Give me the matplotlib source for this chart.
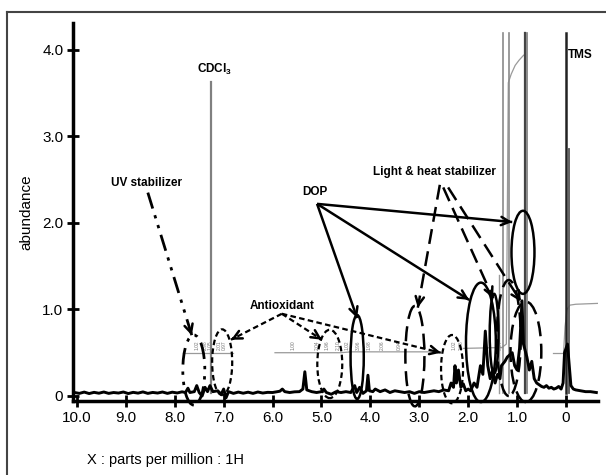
import matplotlib
matplotlib.use("Agg")
import matplotlib.pyplot as plt
from matplotlib.patches import Ellipse
from matplotlib.lines import Line2D

plt.rcParams['font.family'] = ['Liberation Sans', 'DejaVu Sans']
plt.rcParams['mathtext.fontset'] = 'custom'
plt.rcParams['mathtext.rm'] = 'Liberation Sans'
plt.rcParams['mathtext.bf'] = 'Liberation Sans:bold'

# ---------------- data ----------------
# black spectrum trace (ppm, abundance)
spec_ppm = [10.05, 9.95, 9.85, 9.75, 9.65, 9.55, 9.45, 9.35, 9.25, 9.15, 9.05, 8.95,
            8.85, 8.75, 8.65, 8.55, 8.45, 8.35, 8.25, 8.15, 8.05, 7.95, 7.85, 7.78,
            7.73, 7.69, 7.60, 7.55, 7.50, 7.44, 7.38, 7.33, 7.28, 7.22, 7.12, 7.05,
            7.00, 6.95, 6.90, 6.80, 6.70, 6.60, 6.50, 6.40, 6.30, 6.20, 6.10, 6.00,
            5.90, 5.85, 5.80, 5.75, 5.65, 5.55, 5.45, 5.38, 5.34, 5.30, 5.20, 5.10,
            5.00, 4.95, 4.90, 4.80, 4.70, 4.60, 4.50, 4.40, 4.32, 4.28, 4.22, 4.15,
            4.08, 4.05, 4.02, 3.95, 3.90, 3.80, 3.70, 3.60, 3.50, 3.40, 3.30, 3.20,
            3.10, 3.00, 2.90, 2.80, 2.70, 2.60, 2.50, 2.40, 2.35, 2.30, 2.27, 2.24,
            2.20, 2.15, 2.10, 2.05, 2.00, 1.95, 1.88, 1.82, 1.75, 1.70, 1.65, 1.60,
            1.55, 1.50, 1.45, 1.40, 1.35, 1.32, 1.25, 1.20, 1.10, 1.05, 1.00, 0.95,
            0.90, 0.87, 0.80, 0.75, 0.70, 0.65, 0.60, 0.55, 0.50, 0.45, 0.40, 0.35,
            0.30, 0.25, 0.20, 0.15, 0.10, 0.06, 0.03, -0.03, -0.10, -0.15, -0.20,
            -0.30, -0.40, -0.50, -0.62]
spec_int = [0.040, 0.030, 0.045, 0.028, 0.042, 0.032, 0.046, 0.030, 0.040, 0.034, 0.046, 0.028,
            0.042, 0.033, 0.047, 0.030, 0.041, 0.034, 0.046, 0.030, 0.044, 0.035, 0.048, 0.040,
            0.090, 0.040, 0.050, 0.120, 0.040, 0.000, 0.100, 0.050, 0.120, 0.050, 0.060, 0.020,
            0.080, -0.020, 0.050, 0.030, 0.045, 0.032, 0.044, 0.030, 0.046, 0.034, 0.042, 0.040,
            0.050, 0.055, 0.080, 0.050, 0.040, 0.048, 0.050, 0.080, 0.280, 0.070, 0.050, 0.040,
            0.050, 0.080, 0.040, 0.020, 0.050, 0.040, 0.050, 0.040, 0.120, 0.040, 0.100, 0.030,
            0.060, 0.240, 0.060, 0.050, 0.080, 0.050, 0.070, 0.040, 0.060, 0.050, 0.040, 0.050,
            0.030, 0.050, 0.040, 0.050, 0.060, 0.050, 0.070, 0.060, 0.150, 0.100, 0.350, 0.150,
            0.300, 0.100, 0.140, 0.060, 0.080, 0.060, 0.150, 0.100, 0.350, 0.250, 0.750, 0.350,
            0.200, 0.300, 0.150, 0.250, 0.200, 0.350, 0.400, 0.450, 0.500, 0.350, 0.300, 0.550,
            1.100, 0.600, 0.450, 0.300, 0.400, 0.200, 0.150, 0.130, 0.110, 0.100, 0.120, 0.090,
            0.100, 0.080, 0.090, 0.110, 0.080, 0.150, 0.500, 0.600, 0.120, 0.080, 0.070,
            0.060, 0.050, 0.050, 0.040]

# tall (clipped) peak lines: ppm, top abundance, colour, width
tall_ppm = [7.26, 1.37, 1.29, 1.17, 0.84, 0.80, 0.00, -0.07]
tall_top = [3.63, 1.40, 4.20, 4.20, 4.20, 4.20, 4.20, 2.85]
tall_col = ['#808080', '#999999', '#8a8a8a', '#8a8a8a', '#444444', '#7a7a7a', '#222222', '#555555']
tall_lw = [1.6, 1.0, 1.2, 1.2, 1.6, 1.2, 1.8, 1.3]

# integral traces
integ_segments = [
    ([7.83, 6.80], [0.50, 0.50]),
    ([5.95, 4.60, 4.40, 2.60], [0.50, 0.50, 0.51, 0.51]),
    ([2.10, 1.30], [0.55, 0.56]),
    ([1.31, 1.22, 1.18, 1.12, 1.04, 0.96, 0.88, 0.84, 0.84], [0.56, 0.60, 3.62, 3.72, 3.82, 3.88, 3.93, 3.95, 4.20]),
    ([0.27, 0.05], [0.50, 0.50]),
    ([0.05, 0.02, -0.02, -0.08, -0.20, -0.65], [0.50, 0.80, 1.00, 1.05, 1.06, 1.07]),
]
integ_label_ppm = [7.55, 7.38, 7.28, 7.08, 6.98, 5.58, 5.08, 4.88, 4.66, 4.48, 4.24, 4.02, 3.75, 3.40, 2.28, 2.14, 1.35]
integ_label_txt = ['1.02', '2.98', '1.05', '2.01', '0.97', '1.00', '2.04', '1.96', '2.10', '1.02',
                   '3.96', '1.98', '2.06', '0.94', '1.02', '2.08', '8.04']

x_ticks = [10, 9, 8, 7, 6, 5, 4, 3, 2, 1, 0]
x_tick_labels = ['10.0', '9.0', '8.0', '7.0', '6.0', '5.0', '4.0', '3.0', '2.0', '1.0', '0']
y_ticks = [0, 1, 2, 3, 4]
y_tick_labels = ['0', '1.0', '2.0', '3.0', '4.0']

# ---------------- figure ----------------
W, H = 606, 475
fig = plt.figure(figsize=(W / 100, H / 100), dpi=100)
fig.patch.set_facecolor('white')

# outer frame
fig.add_artist(Line2D([7 / W, 7 / W], [0, 1 - 12 / H], color='#444444', lw=1.5))
fig.add_artist(Line2D([7 / W, 1], [1 - 12 / H, 1 - 12 / H], color='#444444', lw=1.5))

ax = fig.add_axes([73 / W, 74 / H, (598 - 73) / W, (401 - 23) / H])
ax.set_xlim(10.08, -0.654)
ax.set_ylim(-0.058, 4.31)
for s in ['top', 'right']:
    ax.spines[s].set_visible(False)
for s in ['left', 'bottom']:
    ax.spines[s].set_linewidth(2.5)
ax.set_xticks(x_ticks)
ax.set_xticklabels(x_tick_labels, fontsize=11)
ax.set_yticks(y_ticks)
ax.set_yticklabels(y_tick_labels, fontsize=11)
ax.tick_params(direction='inout', length=8, width=2, pad=3)
ax.patch.set_alpha(0)

# integrals
for xs, ys in integ_segments:
    ax.plot(xs, ys, color='#9a9a9a', lw=0.9, zorder=1)
for p, t in zip(integ_label_ppm, integ_label_txt):
    ax.text(p, 0.53, t, rotation=90, fontsize=3.5, color='#777777', ha='center', va='bottom', zorder=1)

# tall peaks
for p, top, c, lw in zip(tall_ppm, tall_top, tall_col, tall_lw):
    ax.plot([p, p], [0.04, top], color=c, lw=lw, zorder=2)

# spectrum
ax.plot(spec_ppm, spec_int, color='black', lw=2.1, zorder=3)

# ---------------- annotations ----------------
bold = dict(fontsize=8.5, fontweight='bold', ha='center', va='center')
ax.text(7.18, 3.77, r'CDCl$_\mathbf{3}$', **bold)
ax.text(-0.04, 3.94, 'TMS', fontsize=8.5, fontweight='bold', ha='left', va='center')
ax.text(8.57, 2.46, 'UV stabilizer', **bold)
ax.text(5.81, 1.04, 'Antioxidant', **bold)
ax.text(5.13, 2.36, 'DOP', **bold)
ax.text(2.70, 2.59, 'Light & heat stabilizer', **bold)

styles = {
    'solid': dict(ls='-', lw=1.8),
    'dash': dict(ls=(0, (6, 3)), lw=1.8),
    'dot': dict(ls=(0, (2.5, 1.5)), lw=1.6),
    'dashdotdot': dict(ls=(0, (6, 2.5, 1.2, 2.5, 1.2, 2.5)), lw=2.0),
}


def arrow(start, tip, style):
    st = styles[style]
    ax.plot([start[0], tip[0]], [start[1], tip[1]], color='black', solid_capstyle='butt',
            clip_on=False, zorder=5, **st)
    back = (tip[0] + 0.04 * (start[0] - tip[0]), tip[1] + 0.04 * (start[1] - tip[1]))
    ax.annotate('', xy=tip, xytext=back,
                arrowprops=dict(arrowstyle='->,head_length=0.6,head_width=0.3', lw=1.8,
                                color='black', shrinkA=0, shrinkB=0),
                annotation_clip=False, zorder=6)


def ellipse(c, w, h, style):
    st = styles[style]
    e = Ellipse(c, w, h, fill=False, edgecolor='black', linestyle=st['ls'], linewidth=st['lw'],
                clip_on=False, zorder=5)
    ax.add_patch(e)


# UV stabilizer
arrow((8.55, 2.35), (7.65, 0.70), 'dashdotdot')
ellipse((7.61, 0.30), 0.45, 0.81, 'dashdotdot')

# Antioxidant
for tip in [(6.85, 0.65), (4.99, 0.65), (2.56, 0.50)]:
    arrow((5.81, 0.95), tip, 'dot')
ellipse((7.03, 0.39), 0.41, 0.76, 'dot')
ellipse((4.83, 0.37), 0.51, 0.79, 'dot')
ellipse((2.33, 0.31), 0.45, 0.79, 'dot')

# DOP
for tip in [(4.27, 0.90), (1.98, 1.11), (1.10, 2.01)]:
    arrow((5.09, 2.22), tip, 'solid')
ellipse((4.27, 0.45), 0.27, 0.97, 'solid')
ellipse((1.74, 0.62), 0.61, 1.38, 'solid')
ellipse((0.88, 1.66), 0.47, 0.96, 'solid')

# Light & heat stabilizer
arrow((2.58, 2.44), (3.03, 1.02), 'dash')
arrow((2.51, 2.41), (1.49, 1.13), 'dash')
arrow((2.41, 2.41), (0.92, 1.09), 'dash')
ellipse((3.09, 0.46), 0.39, 1.16, 'dash')
ellipse((1.47, 0.72), 0.18, 0.92, 'solid')
ellipse((1.17, 0.67), 0.49, 1.34, 'dash')
ellipse((0.82, 0.51), 0.63, 1.16, 'dash')

# axis titles
fig.text(26 / W, 1 - 212 / H, 'abundance', rotation=90, fontsize=11, ha='center', va='center')
fig.text(87 / W, 1 - 460 / H, 'X : parts per million : 1H', fontsize=10.5, ha='left', va='center')

fig.savefig('out.png', dpi=100, facecolor='white')
